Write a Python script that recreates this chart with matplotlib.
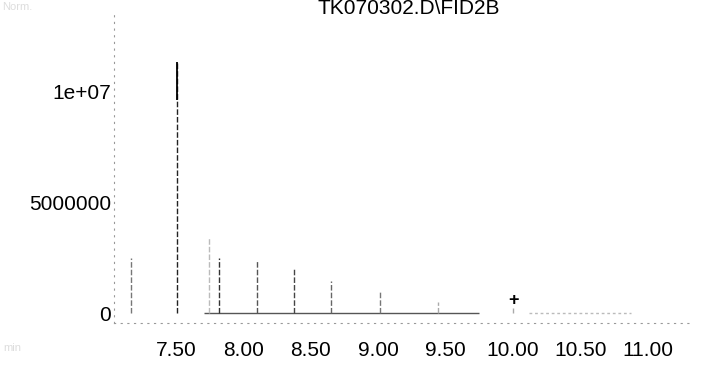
import matplotlib
matplotlib.use("Agg")
import matplotlib.pyplot as plt

plt.rcParams['font.family'] = ['Liberation Sans', 'DejaVu Sans']

# Data
peak_times = [7.17, 7.51, 7.745, 7.82, 8.10, 8.374, 8.65, 9.01, 9.44, 10.00]
peak_heights = [2.48e6, 1.13e7, 3.4e6, 2.48e6, 2.35e6, 2.0e6, 1.45e6, 1.0e6, 0.5e6, 0.22e6]
peak_colors = ['#777777', '#222222', '#bbbbbb', '#333333', '#555555', '#444444', '#666666', '#777777', '#aaaaaa', '#aaaaaa']
baseline_solid = [7.71, 9.75]
baseline_faint = [10.12, 10.87]
marker_time = 10.00
marker_y = 0.55e6

xticks = [7.50, 8.00, 8.50, 9.00, 9.50, 10.00, 10.50, 11.00]
xticklabels = ['7.50', '8.00', '8.50', '9.00', '9.50', '10.00', '10.50', '11.00']
yticks = [0, 5e6, 1e7]
yticklabels = ['0', '5000000', '1e+07']
title = 'TK070302.D\\FID2B'

W, H = 703, 371
fig = plt.figure(figsize=(W / 100, H / 100), dpi=100)
left, right, top, bottom = 114, 690, 10, 323
ax = fig.add_axes([left / W, 1 - bottom / H, (right - left) / W, (bottom - top) / H])

ax.set_xlim(7.041, 11.311)
ax.set_ylim(-0.45e6, 13.65e6)

ax.hlines(0, baseline_solid[0], baseline_solid[1], colors='#555555', lw=1.0)
ax.hlines(0, baseline_faint[0], baseline_faint[1], colors='#bbbbbb', lw=1.0, linestyles=(0, (2, 2)))

for t, h, c in zip(peak_times, peak_heights, peak_colors):
    ax.vlines(t, 0, h, colors=c, lw=1.0, linestyles=(0, (4, 1.5)))
# solid top of the main peak
ax.vlines(peak_times[1], 0.85 * peak_heights[1], peak_heights[1], colors='black', lw=1.3)

ax.text(marker_time, marker_y, '+', ha='center', va='center', fontsize=13, fontweight='bold', color='black')

for s in ['top', 'right']:
    ax.spines[s].set_visible(False)
for s in ['left', 'bottom']:
    ax.spines[s].set_linestyle((0, (1, 5)))
    ax.spines[s].set_color('#999999')
    ax.spines[s].set_linewidth(0.8)

ax.set_xticks(xticks)
ax.set_xticklabels(xticklabels)
ax.set_yticks(yticks)
ax.set_yticklabels(yticklabels)
ax.tick_params(axis='both', length=0, labelsize=15, colors='black')
ax.tick_params(axis='x', pad=13)
ax.tick_params(axis='y', pad=2)

fig.text(409 / W, 1 - 14 / H, title, ha='center', va='baseline', fontsize=15, color='black')
fig.text(2 / W, 1 - 10 / H, 'Norm.', ha='left', va='baseline', fontsize=8, color='#dddddd')
fig.text(3 / W, 1 - 351 / H, 'min', ha='left', va='baseline', fontsize=8, color='#dddddd')

fig.savefig('out.png', dpi=100)
